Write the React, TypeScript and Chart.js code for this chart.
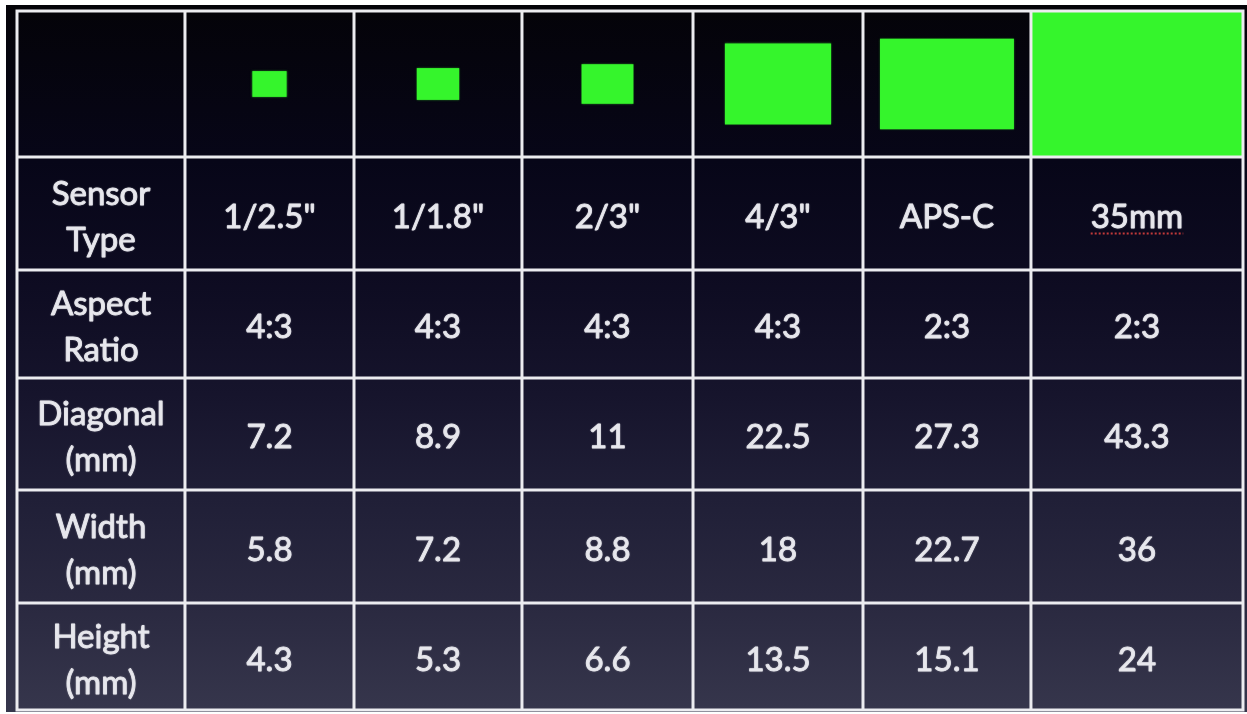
import { useEffect, useRef } from "react";
import { Chart, registerables } from "chart.js";

Chart.register(...registerables);

// ---- data ----
const sensorTypes = ['1/2.5"', '1/1.8"', '2/3"', '4/3"', "APS-C", "35mm"];
const aspectRatios = ["4:3", "4:3", "4:3", "4:3", "2:3", "2:3"];
const diagonalMM = [7.2, 8.9, 11, 22.5, 27.3, 43.3];
const widthMM = [5.8, 7.2, 8.8, 18, 22.7, 36];
const heightMM = [4.3, 5.3, 6.6, 13.5, 15.1, 24];
const rowLabels = [
  ["Sensor", "Type"],
  ["Aspect", "Ratio"],
  ["Diagonal", "(mm)"],
  ["Width", "(mm)"],
  ["Height", "(mm)"],
];

// ---- layout (table coordinates, in sensor millimetres) ----
const TABLE_W = 207.8;
const TABLE_H = 116.5;
const COL_EDGES = [0, 28.47, 57.12, 85.59, 114.58, 143.39, 171.86, 207.8];
const ROW_EDGES = [0, 24.33, 43.17, 61.17, 79.83, 98.67, 116.5];

const FONT = '33px Lato, "Open Sans", sans-serif';
const TEXT_COLOR = "#e6e6ec";
const GRID_COLOR = "#ececf0";
const GREEN = "#35f52c";

const tablePlugin = {
  id: "sensorTable",
  beforeDraw(chart: any) {
    const { ctx, chartArea, width, height } = chart;
    ctx.save();
    ctx.fillStyle = "#ffffff";
    ctx.fillRect(0, 0, width, height);
    const top = chartArea.top - 6;
    const bottom = chartArea.bottom + 2;
    const g = ctx.createLinearGradient(0, top, 0, bottom);
    g.addColorStop(0, "#040308");
    g.addColorStop(0.22, "#070618");
    g.addColorStop(0.4, "#0e0c22");
    g.addColorStop(0.55, "#16142c");
    g.addColorStop(0.7, "#201f37");
    g.addColorStop(0.85, "#2a2940");
    g.addColorStop(1, "#36364c");
    ctx.fillStyle = g;
    ctx.fillRect(chartArea.left - 11, top, width - (chartArea.left - 11), bottom - top);
    ctx.restore();
  },
  afterDatasetsDraw(chart: any) {
    const { ctx } = chart;
    const xs = chart.scales.x;
    const ys = chart.scales.y;
    const px = (v: number) => xs.getPixelForValue(v);
    const py = (v: number) => ys.getPixelForValue(v);

    // green sensor rectangles in header row, drawn to scale
    const hy0 = ROW_EDGES[0];
    const hy1 = ROW_EDGES[1];
    const hcy = (hy0 + hy1) / 2;
    for (let i = 0; i < widthMM.length; i++) {
      const c0 = COL_EDGES[i + 1];
      const c1 = COL_EDGES[i + 2];
      const cx = (c0 + c1) / 2;
      ctx.save();
      ctx.beginPath();
      ctx.rect(px(c0), py(hy0), px(c1) - px(c0), py(hy1) - py(hy0));
      ctx.clip();
      const x0 = px(cx - widthMM[i] / 2);
      const x1 = px(cx + widthMM[i] / 2);
      const y0 = py(hcy - heightMM[i] / 2);
      const y1 = py(hcy + heightMM[i] / 2);
      ctx.fillStyle = GREEN;
      ctx.shadowColor = "rgba(53,245,44,0.5)";
      ctx.shadowBlur = 2;
      ctx.fillRect(x0, y0, x1 - x0, y1 - y0);
      ctx.restore();
    }

    // grid lines
    ctx.save();
    ctx.strokeStyle = GRID_COLOR;
    ctx.lineWidth = 3;
    ctx.beginPath();
    for (const c of COL_EDGES) {
      ctx.moveTo(px(c), py(0) - 1.5);
      ctx.lineTo(px(c), py(TABLE_H) + 1.5);
    }
    for (const r of ROW_EDGES) {
      ctx.moveTo(px(0) - 1.5, py(r));
      ctx.lineTo(px(TABLE_W) + 1.5, py(r));
    }
    ctx.stroke();
    ctx.restore();

    // text
    const rows: (string | number)[][] = [sensorTypes, aspectRatios, diagonalMM, widthMM, heightMM];
    ctx.save();
    ctx.font = FONT;
    ctx.fillStyle = TEXT_COLOR;
    ctx.strokeStyle = TEXT_COLOR;
    ctx.lineWidth = 0.9;
    ctx.lineJoin = "round";
    ctx.textAlign = "center";
    ctx.textBaseline = "alphabetic";
    ctx.shadowColor = "rgba(255,255,255,0.25)";
    ctx.shadowBlur = 2;
    const put = (t: string, x: number, y: number) => {
      ctx.fillText(t, x, y);
      ctx.strokeText(t, x, y);
    };
    for (let r = 0; r < rows.length; r++) {
      const cy = py((ROW_EDGES[r + 1] + ROW_EDGES[r + 2]) / 2);
      const lx = px((COL_EDGES[0] + COL_EDGES[1]) / 2);
      put(rowLabels[r][0], lx, cy - 9);
      put(rowLabels[r][1], lx, cy + 37);
      for (let i = 0; i < rows[r].length; i++) {
        const cx = px((COL_EDGES[i + 1] + COL_EDGES[i + 2]) / 2);
        const label = String(rows[r][i]);
        put(label, cx, cy + 14);
        if (label === "35mm") {
          const w = ctx.measureText(label).width;
          ctx.save();
          ctx.shadowBlur = 0;
          ctx.strokeStyle = "#c23a3a";
          ctx.lineWidth = 2;
          ctx.setLineDash([2, 2]);
          ctx.beginPath();
          ctx.moveTo(cx - w / 2, cy + 20);
          ctx.lineTo(cx + w / 2, cy + 20);
          ctx.stroke();
          ctx.restore();
        }
      }
    }
    ctx.restore();
  },
};

export default function App() {
  const ref = useRef<HTMLCanvasElement | null>(null);
  useEffect(() => {
    document.body.style.margin = "0";
    document.body.style.background = "#ffffff";
    if (!ref.current) return;
    const centers = widthMM.map((_, i) => ({
      x: (COL_EDGES[i + 1] + COL_EDGES[i + 2]) / 2,
      y: (ROW_EDGES[0] + ROW_EDGES[1]) / 2,
    }));
    const chart = new Chart(ref.current, {
      type: "scatter",
      data: {
        labels: sensorTypes,
        datasets: [
          {
            label: "Sensor",
            data: centers,
            pointRadius: 0,
            pointHoverRadius: 0,
          },
        ],
      },
      options: {
        responsive: false,
        animation: false,
        events: [],
        layout: { padding: { left: 17, top: 11, right: 4, bottom: 4 } },
        plugins: { legend: { display: false }, tooltip: { enabled: false } },
        scales: {
          x: { type: "linear", min: 0, max: TABLE_W, display: false },
          y: { type: "linear", min: 0, max: TABLE_H, reverse: true, display: false },
        },
      },
      plugins: [tablePlugin],
    });
    return () => chart.destroy();
  }, []);
  return (
    <div style={{ width: 1247, height: 714 }}>
      <canvas ref={ref} width={1247} height={714} style={{ display: "block" }} />
    </div>
  );
}
